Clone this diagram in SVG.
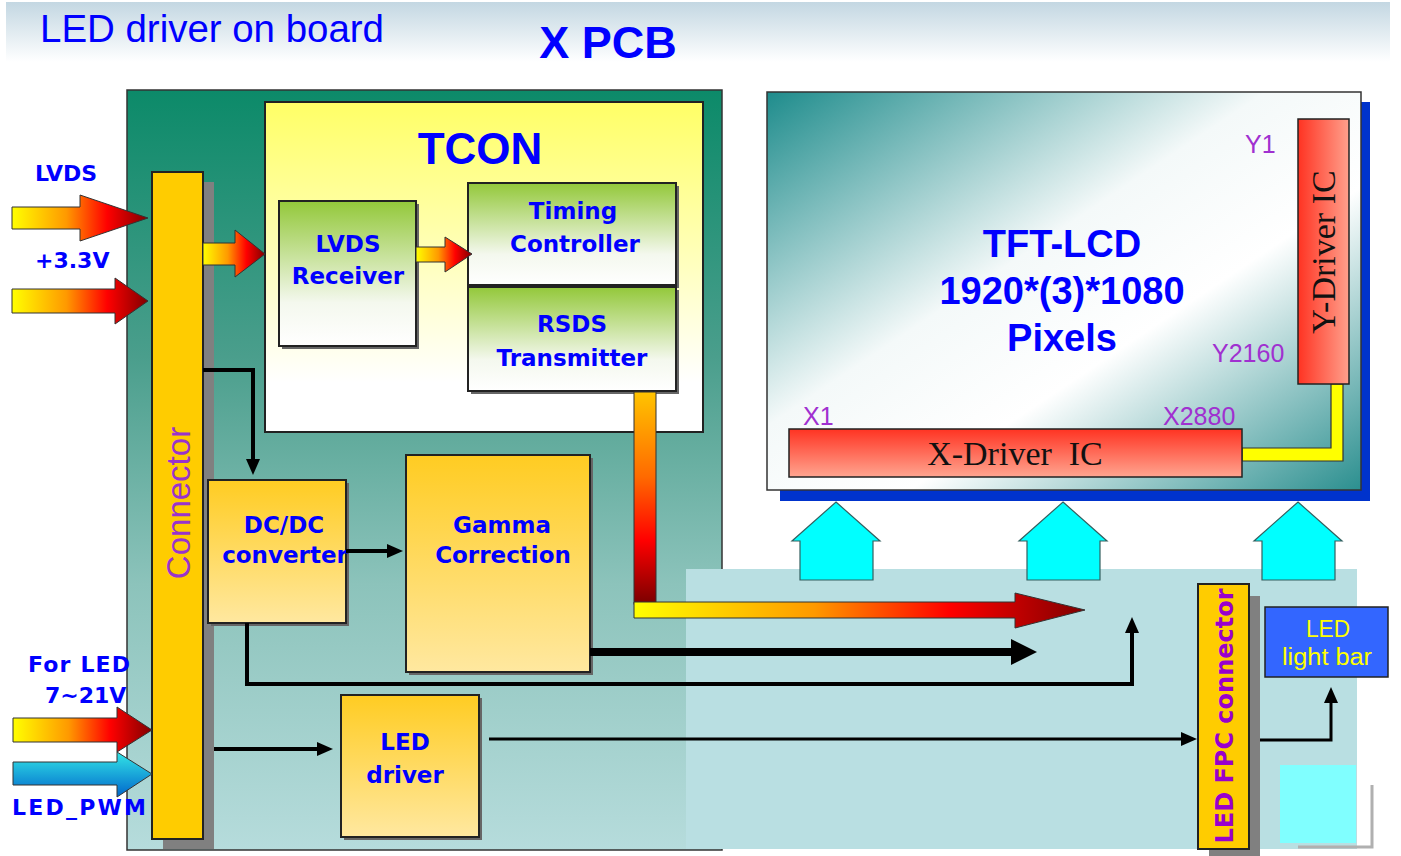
<svg xmlns="http://www.w3.org/2000/svg" width="1401" height="856" viewBox="0 0 1401 856">
<defs>
  <linearGradient id="gBanner" x1="0" y1="0" x2="0" y2="1"><stop offset="0" stop-color="#c3d7e2"/><stop offset="1" stop-color="#ffffff"/></linearGradient>
  <linearGradient id="gPcb" x1="0" y1="0" x2="0" y2="1"><stop offset="0" stop-color="#0c8a69"/><stop offset="0.35" stop-color="#4a9e8c"/><stop offset="0.65" stop-color="#8cc3bb"/><stop offset="1" stop-color="#b6dcdc"/></linearGradient>
  <linearGradient id="gTcon" x1="0" y1="0" x2="0" y2="1"><stop offset="0" stop-color="#ffff66"/><stop offset="0.85" stop-color="#ffffff"/><stop offset="1" stop-color="#ffffff"/></linearGradient>
  <linearGradient id="gGreen" x1="0" y1="0" x2="0" y2="1"><stop offset="0" stop-color="#93c83a"/><stop offset="0.7" stop-color="#f4f8ee"/><stop offset="1" stop-color="#ffffff"/></linearGradient>
  <linearGradient id="gOrange" x1="0" y1="0" x2="0" y2="1"><stop offset="0" stop-color="#ffcc22"/><stop offset="1" stop-color="#ffe8a0"/></linearGradient>
  <linearGradient id="gTft" x1="0" y1="0" x2="1" y2="1"><stop offset="0" stop-color="#1e8c8c"/><stop offset="0.42" stop-color="#f4f9f9"/><stop offset="0.62" stop-color="#ffffff"/><stop offset="1" stop-color="#2b8f8f"/></linearGradient>
  <linearGradient id="gRedV" x1="0" y1="0" x2="0" y2="1"><stop offset="0" stop-color="#ff3322"/><stop offset="1" stop-color="#ffa590"/></linearGradient>
  <linearGradient id="gRedH" x1="0" y1="0" x2="1" y2="0"><stop offset="0" stop-color="#ff3322"/><stop offset="1" stop-color="#ffa08c"/></linearGradient>
  <linearGradient id="gHot" x1="0" y1="0" x2="1" y2="0"><stop offset="0" stop-color="#ffff00"/><stop offset="0.4" stop-color="#ff9900"/><stop offset="0.7" stop-color="#ff0000"/><stop offset="1" stop-color="#800000"/></linearGradient>
  <linearGradient id="gHotV" x1="0" y1="0" x2="0" y2="1"><stop offset="0" stop-color="#ffc400"/><stop offset="0.4" stop-color="#ff6a00"/><stop offset="0.7" stop-color="#ff0000"/><stop offset="1" stop-color="#7a0000"/></linearGradient>
  <linearGradient id="gCyan" x1="0" y1="0" x2="0" y2="1"><stop offset="0" stop-color="#33e6e6"/><stop offset="1" stop-color="#0066cc"/></linearGradient>
  <marker id="ah" viewBox="0 0 16 14" refX="5" refY="7" markerWidth="16" markerHeight="14" markerUnits="userSpaceOnUse" orient="auto"><path d="M0,0 L16,7 L0,14 z" fill="#000"/></marker>
  <marker id="ahBig" viewBox="0 0 26 26" refX="6" refY="13" markerWidth="26" markerHeight="26" markerUnits="userSpaceOnUse" orient="auto"><path d="M0,0 L26,13 L0,26 z" fill="#000"/></marker>
</defs>
<style>
  .blk{font-family:"DejaVu Sans",Verdana,sans-serif;font-weight:bold;font-size:23px;fill:#0000ff;text-anchor:middle}
  .lbl{font-family:"DejaVu Sans",Verdana,sans-serif;font-weight:bold;font-size:22px;fill:#0000ff}
  .big{font-family:"Liberation Sans",Arial,sans-serif;font-weight:bold;fill:#0000ff;text-anchor:middle}
  .pin{font-family:"Liberation Sans",Arial,sans-serif;font-size:25px;fill:#a030d0}
  .ser{font-family:"Liberation Serif","Times New Roman",serif;font-size:34px;fill:#111;text-anchor:middle}
  .bar{font-family:"Liberation Sans",Arial,sans-serif;font-size:23px;fill:#ffff00;text-anchor:middle}
  .box{stroke:#222;stroke-width:2}
  .shd{fill:#666}
  .hot{fill:url(#gHot);stroke:#333;stroke-width:1}
  .cyn{fill:#00ffff;stroke:#335f5f;stroke-width:1.2}
  .wire{fill:none;stroke:#000;stroke-width:4;marker-end:url(#ah)}
</style>

<g id="background">
  <rect x="0" y="0" width="1401" height="856" fill="#ffffff"/>
  <rect x="6" y="2" width="1384" height="60" fill="url(#gBanner)"/>
  <text x="40" y="42" font-family="Liberation Sans, Arial, sans-serif" font-size="38" fill="#0000ff" textLength="344" lengthAdjust="spacingAndGlyphs">LED driver on board</text>
  <text x="608" y="58" class="big" font-size="45">X PCB</text>
</g>

<g id="xpcb-board">
  <rect x="127" y="90" width="595" height="760" fill="url(#gPcb)" stroke="#333" stroke-width="1.5"/>
</g>
<g id="led-panel">
  <rect x="686" y="569" width="671" height="280" fill="#b9dfe2"/>
  <rect x="1280" y="765" width="76" height="78" fill="#80ffff"/>
  <path d="M1372,785 V847 H1298" fill="none" stroke="#b0b0b0" stroke-width="3"/>
</g>

<g id="tft-lcd">
  <rect x="780" y="102" width="590" height="399" fill="#0033cc"/>
  <rect x="767" y="92" width="594" height="398" fill="url(#gTft)" stroke="#333" stroke-width="1.5"/>
  <text x="1062" y="257" class="big" font-size="38">TFT-LCD</text>
  <text x="1062" y="304" class="big" font-size="38">1920*(3)*1080</text>
  <text x="1062" y="351" class="big" font-size="38">Pixels</text>
  <text x="1245" y="153" class="pin">Y1</text>
  <text x="1212" y="362" class="pin">Y2160</text>
  <text x="803" y="425" class="pin">X1</text>
  <text x="1163" y="425" class="pin">X2880</text>
</g>
<g id="yellow-link">
  <path d="M1242,448 H1331 V384 H1343 V461 H1242 Z" fill="#ffff00" stroke="#333" stroke-width="1.2"/>
</g>
<g id="y-driver">
  <rect x="1298" y="119" width="51" height="265" fill="url(#gRedH)" stroke="#222" stroke-width="1.5"/>
  <text class="ser" transform="translate(1324,252) rotate(-90)" x="0" y="11">Y-Driver IC</text>
</g>
<g id="x-driver">
  <rect x="789" y="429" width="453" height="48" fill="url(#gRedV)" stroke="#222" stroke-width="1.5"/>
  <text class="ser" x="1015" y="465" xml:space="preserve">X-Driver  IC</text>
</g>

<g id="backlight-arrows">
  <path class="cyn" d="M836,502 L880,541 L873,541 L873,580 L800,580 L800,541 L792,541 Z"/>
  <path class="cyn" d="M1063,502 L1107,541 L1100,541 L1100,580 L1027,580 L1027,541 L1019,541 Z"/>
  <path class="cyn" d="M1298,502 L1342,541 L1335,541 L1335,580 L1262,580 L1262,541 L1254,541 Z"/>
</g>

<g id="tcon">
  <rect x="265" y="102" width="438" height="330" fill="url(#gTcon)" stroke="#222" stroke-width="2"/>
  <text x="480" y="164" class="big" font-size="44">TCON</text>
</g>
<g id="lvds-receiver">
  <rect class="shd" x="282" y="204" width="137" height="145"/>
  <rect class="box" x="279" y="201" width="137" height="145" fill="url(#gGreen)"/>
  <text class="blk" x="348" y="252">LVDS</text>
  <text class="blk" x="348" y="284">Receiver</text>
</g>
<g id="timing-controller">
  <rect class="shd" x="471" y="186" width="208" height="102"/>
  <rect class="box" x="468" y="183" width="208" height="102" fill="url(#gGreen)"/>
  <text class="blk" x="573" y="219">Timing</text>
  <text class="blk" x="575" y="252">Controller</text>
</g>
<g id="rsds-transmitter">
  <rect class="shd" x="471" y="290" width="208" height="104"/>
  <rect class="box" x="468" y="287" width="208" height="104" fill="url(#gGreen)"/>
  <text class="blk" x="572" y="332">RSDS</text>
  <text class="blk" x="572" y="366">Transmitter</text>
</g>

<g id="connector">
  <rect x="163" y="182" width="51" height="667" fill="#808080"/>
  <rect class="box" x="152" y="172" width="51" height="667" fill="#ffcc00"/>
  <text transform="translate(178,503) rotate(-90)" x="0" y="12" font-family="Liberation Sans, Arial, sans-serif" font-size="33" fill="#9933cc" text-anchor="middle">Connector</text>
</g>

<g id="dcdc-converter">
  <rect class="shd" x="211" y="483" width="138" height="143"/>
  <rect class="box" x="208" y="480" width="138" height="143" fill="url(#gOrange)"/>
  <text class="blk" x="284" y="533">DC/DC</text>
  <text class="blk" x="285" y="563">converter</text>
</g>
<g id="gamma-correction">
  <rect class="shd" x="409" y="458" width="184" height="217"/>
  <rect class="box" x="406" y="455" width="184" height="217" fill="url(#gOrange)"/>
  <text class="blk" x="502" y="533">Gamma</text>
  <text class="blk" x="503" y="563">Correction</text>
</g>
<g id="led-driver">
  <rect class="shd" x="344" y="698" width="138" height="142"/>
  <rect class="box" x="341" y="695" width="138" height="142" fill="url(#gOrange)"/>
  <text class="blk" x="405" y="750">LED</text>
  <text class="blk" x="405" y="783">driver</text>
</g>

<g id="led-fpc-connector">
  <rect x="1209" y="596" width="51" height="260" fill="#808080"/>
  <rect class="box" x="1198" y="584" width="51" height="265" fill="#ffcc00"/>
  <text transform="translate(1224,716) rotate(-90)" x="0" y="9" font-family="DejaVu Sans, Verdana, sans-serif" font-weight="bold" font-size="24" fill="#9900cc" text-anchor="middle">LED FPC connector</text>
</g>
<g id="led-light-bar">
  <rect x="1265" y="607" width="123" height="70" fill="#3366ff" stroke="#222" stroke-width="1.5"/>
  <text class="bar" x="1328" y="637" textLength="44" lengthAdjust="spacingAndGlyphs">LED</text>
  <text class="bar" x="1327" y="665" textLength="90" lengthAdjust="spacingAndGlyphs">light bar</text>
</g>

<g id="inputs">
  <text class="lbl" x="35" y="181">LVDS</text>
  <text class="lbl" x="35" y="268">+3.3V</text>
  <text class="lbl" x="28" y="672" textLength="102">For LED</text>
  <text class="lbl" x="45" y="703">7~21V</text>
  <text class="lbl" x="12" y="815" textLength="134">LED_PWM</text>
  <polygon class="hot" points="12,207 80,207 80,195 148,218 80,241 80,229 12,229"/>
  <polygon class="hot" points="12,289 115,289 115,278 148,301 115,324 115,313 12,313"/>
  <polygon class="hot" points="13,718 117,718 117,707 152,730 117,752 117,742 13,742"/>
  <polygon points="13,762 117,762 117,752 152,774 117,797 117,785 13,785" fill="url(#gCyan)" stroke="#333" stroke-width="1"/>
</g>

<g id="connectors">
  <polygon class="hot" points="203,243 235,243 235,230 265,254 235,277 235,265 203,265"/>
  <polygon class="hot" points="416,247 445,247 445,237 472,254 445,272 445,262 416,262"/>
  <rect x="634" y="392" width="22" height="212" fill="url(#gHotV)" stroke="#333" stroke-width="1"/>
  <polygon class="hot" points="634,602 1015,602 1015,593 1085,610 1015,628 1015,618 634,618"/>
  <path class="wire" d="M203,370 H253 V464"/>
  <path class="wire" d="M346,551 H392"/>
  <path d="M590,652 H1017" fill="none" stroke="#000" stroke-width="8" marker-end="url(#ahBig)"/>
  <path class="wire" d="M247,623 V684 H1132 V628"/>
  <path class="wire" d="M214,749 H322"/>
  <path class="wire" style="stroke-width:3" d="M489,739 H1186"/>
  <path class="wire" style="stroke-width:3" d="M1260,740 H1331 V698"/>
</g>
</svg>
